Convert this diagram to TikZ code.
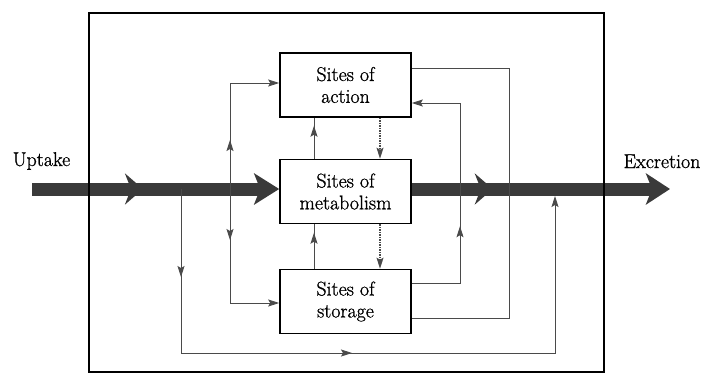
\documentclass[tikz,border=0pt]{standalone}
\usepackage{fontspec}
\setmainfont{Latin Modern Roman}[FakeBold=1.0]
\usetikzlibrary{arrows.meta,decorations.markings}
\definecolor{bigc}{HTML}{3A3A3A}
\definecolor{thinc}{HTML}{4A4A4A}
\begin{document}
\begin{tikzpicture}[x=1bp,y=-1bp,
  box/.style={draw=black,line width=1.6bp,minimum width=131bp,minimum height=64bp,inner sep=0pt,align=center,font=\fontsize{20}{22}\selectfont},
  lbl/.style={font=\fontsize{20}{22}\selectfont,inner sep=0pt,anchor=base},
  thinline/.style={draw=thinc,line width=0.9bp},
  endtip/.style={-{Stealth[length=11bp,width=7bp,inset=2bp]}},
  marrow/.style={postaction={decorate},decoration={markings,mark=at position #1 with {\arrow{Stealth[length=11bp,width=7bp,inset=2bp]}}}},
  marrowtwo/.style 2 args={postaction={decorate},decoration={markings,
      mark=at position #1 with {\arrow{Stealth[length=11bp,width=7bp,inset=2bp]}},
      mark=at position #2 with {\arrow{Stealth[length=11bp,width=7bp,inset=2bp]}}}},
  bigline/.style={draw=bigc,line width=13bp},
  bigtip/.style={-{Stealth[length=#1,width=31bp,inset=6bp]}},
  bigmark/.style={postaction={decorate},decoration={markings,mark=at position #1 with {\arrow{Stealth[length=18bp,width=31bp,inset=6bp]}}}}
]
\useasboundingbox (0,0) rectangle (706,374);

% boxes
\node[box] (act) at (345.5,85) {Sites of\\action};
\node[box] (met) at (345.5,191.5) {Sites of\\metabolism};
\node[box] (sto) at (345.5,301.5) {Sites of\\storage};

% labels
\node[lbl] (up) at (41.5,166) {Uptake};
\node[lbl] (ex) at (662,168) {Excretion};

% helper coordinates
\coordinate (ay) at (0,189);
\coordinate (start) at (32,189);
\coordinate (endp) at (670,189);
\coordinate (j1) at (230,189);
\coordinate (j2) at (181,189);
\coordinate (yA) at (0,68);
\coordinate (yB) at (0,318);
\coordinate (yC) at (0,283);
\coordinate (yD) at (0,103);
\coordinate (xL) at (314,0);
\coordinate (xR) at (380,0);
\coordinate (x460) at (460,0);
\coordinate (x509) at (509,0);
\coordinate (up1) at (230,83);
\coordinate (dn1) at (230,303);
\coordinate (bl) at (181,353);
\coordinate (br) at (555,353);
\coordinate (rb) at (555,196);

% big arrows
\draw[bigline,bigtip=25bp,bigmark=111bp] (start) -- (met.west |- ay);
\draw[bigline,bigtip=24bp,bigmark=81bp] (met.east |- ay) -- (endp);

% outer frame
\draw[line width=1.4bp] (89,13) rectangle (604,372);

% thin connectors
\draw[thinline,endtip,marrow=49bp] (j1) -- (up1) -- (act.west |- up1);
\draw[thinline,endtip,marrow=51bp] (j1) -- (dn1) -- (sto.west |- dn1);
\draw[thinline,endtip,marrowtwo={88bp}{335bp}] (j2) -- (bl) -- (br) -- (rb);
\draw[thinline,marrow=33bp] (met.north -| xL) -- (act.south -| xL);
\draw[thinline,marrow=36bp] (sto.north -| xL) -- (met.south -| xL);
\draw[thinline,line width=1.5bp,densely dotted,endtip] (act.south -| xR) -- (met.north -| xR);
\draw[thinline,line width=1.5bp,densely dotted,endtip] (met.south -| xR) -- (sto.north -| xR);
\draw[thinline,endtip,marrow=105bp] (sto.east |- yC) -- (x460 |- yC) -- (x460 |- yD) -- (act.east |- yD);
\draw[thinline] (act.east |- yA) -- (x509 |- yA) -- (x509 |- yB) -- (sto.east |- yB);
\end{tikzpicture}
\end{document}
